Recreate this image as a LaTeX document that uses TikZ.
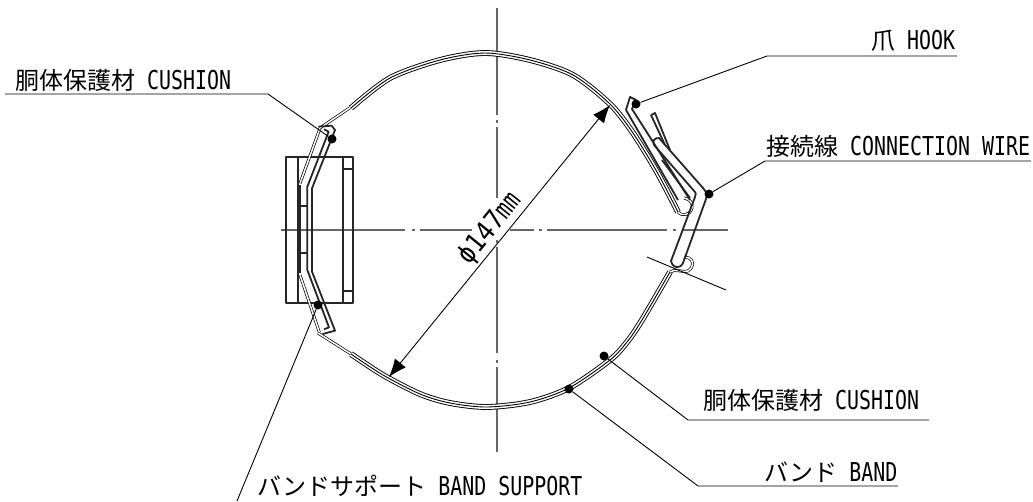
\documentclass[tikz,border=0pt]{standalone}
\usepackage{fontspec}
\usetikzlibrary{arrows.meta}
\newfontfamily\jpfont{Noto Sans CJK JP}
\newfontfamily\latfont[FakeStretch=0.766]{DejaVu Sans Mono}
\newfontfamily\dimfont[FakeStretch=0.9]{DejaVu Sans Mono}
\newcommand{\partlabel}[2]{{\fontsize{24}{24}\jpfont #1}\hspace{12pt}{\fontsize{26}{24}\latfont #2}}

\begin{document}
\begin{tikzpicture}[x=1pt,y=-1pt,>={Latex[length=18pt,width=14pt]}]
	\tikzset{
		thick line/.style={line width=1.8pt,draw=black!85,line join=round},
		thin line/.style={line width=0.9pt,draw=black},
		center line/.style={line width=1.3pt,draw=black!60},
		band line/.style={line width=0.9pt,draw=black,line join=round,
			preaction={draw=black,line width=5.8pt},
			preaction={draw=white,line width=4pt}},
		band thin/.style={line width=2.9pt,draw=black,line join=round,
			postaction={draw=white,line width=1.5pt}},
		dotmark/.style={circle,fill=black,inner sep=0pt,minimum size=9pt},
		partname/.style={inner sep=0pt,anchor=base west},
	}
	\useasboundingbox (0,0) rectangle (1033,501);

	%center lines
	\draw[center line] (281,230) -- (405,230) (412,230) -- (415,230) (420,230) -- (472,230)
		(510,230) -- (534,230) (539,230) -- (542,230) (547,230) -- (667,230)
		(673,230) -- (676,230) (682,230) -- (728,230);
	\draw[center line] (497,8) -- (497,115) (497,120) -- (497,123) (497,127) -- (497,198)
		(497,240) -- (497,243) (497,247) -- (497,353) (497,360) -- (497,363) (497,367) -- (497,452);

	%band
	\draw[band thin] (320,128) -- (351,107);
	\draw[band thin] (318,333) -- (351,354);
	\draw[band line] plot[smooth,tension=0.5] coordinates {(351,108) (390,78) (440,60) (485,53)
		(530,60) (573,75) (610,104) (633,133) (657,172) (678,212)};
	\draw[band line] plot[smooth,tension=0.5] coordinates {(351,354) (383,375) (420,394) (450,403) (487,407)
		(530,402) (569,388) (610,360) (627,342) (642,320) (670,272)};
	%band end, loops
	\draw[band thin] (678,212) .. controls (683,217) and (690,215) .. (692,208) .. controls (693,203) and (690,199) .. (684,198);
	\draw[band thin] (670,272) .. controls (675,268) and (683,273) .. (688,271) .. controls (694,268) and (694,260) .. (689,258) -- (684,257);

	%lever
	\draw[thick line] (654,145) .. controls (652,140) and (655,138) .. (659,138) -- (703,188)
		.. controls (707,192) and (707,196) .. (706,199) -- (683,263)
		.. controls (680,269) and (673,269) .. (671,261)
		-- (695,197) .. controls (696,194) and (696,193) .. (695,192) -- cycle;
	%hook
	\draw[thick line] (626,110) -- (630,97) -- (636,100) -- (632,109) -- (690,200);
	\draw[thick line] (626,110) -- (678,200) ;
	%wire
	\draw[thick line] (651,115) -- (655,113) -- (670,150);
	\draw[thick line] (651,115) -- (665,145);
	\draw[thick line] (662,160) -- (690,198);

	%band support
	\begin{scope}[shift={(250,120)},x=1/3*1pt,y=-1/3*1pt]
		\draw[thick line] (108,110) rectangle (310,548);
		\draw[thick line] (143,110) -- (143,548) (278,110) -- (278,548);
		\draw[thick line] (278,148) -- (310,148) (278,512) -- (310,512);
		\draw[thick line] (150,258) -- (172,258) (150,400) -- (172,400);
		\draw[line width=3pt,draw=black!85] (148,195) -- (148,460);
		\draw[thick line] (205,20) -- (245,17) -- (255,30) -- (186,205) -- (186,455) -- (255,632) -- (218,642);
		\draw[thick line] (222,28) -- (236,35) -- (172,200) -- (172,450) -- (237,622) -- (222,628);
		\draw[band thin] (150,190) -- (210,25);
		\draw[band thin] (150,465) -- (208,637);
	\end{scope}

	%angle line
	\coordinate (anglestart) at (647,257);
	\coordinate (angleend) at (726,290);
	\draw[thin line] (anglestart) -- (angleend);

	%dimension
	\coordinate (dimtop) at (610,105);
	\coordinate (dimbot) at (389,377);
	\draw[thin line,<->] (dimbot) -- (dimtop);
	\node (dimlabel) [rotate=51,inner sep=0pt] at (490,229) {\fontsize{27}{27}\dimfont ϕ147\scalebox{.85}[1]{mm}};

	%dots
	\node (dotcushl) [dotmark] at (332,139) {};
	\node (dotsupp) [dotmark] at (318,305) {};
	\node (dothook) [dotmark] at (636,104) {};
	\node (dotwire) [dotmark] at (709,194) {};
	\node (dotcushr) [dotmark] at (604,356) {};
	\node (dotband) [dotmark] at (569,389) {};

	%labels
	\node (lblcushl) [partname] at (15,89) {\partlabel{胴体保護材}{CUSHION}};
	\node (lblhook) [partname] at (871,49) {\partlabel{爪}{HOOK}};
	\node (lblwire) [partname] at (766,155) {\partlabel{接続線}{CONNECTION WIRE}};
	\node (lblcushr) [partname] at (703,409) {\partlabel{胴体保護材}{CUSHION}};
	\node (lblband) [partname] at (764,481) {\partlabel{バンド}{BAND}};
	\node (lblsupp) [partname] at (257,495) {\partlabel{バンドサポート}{BAND SUPPORT}};

	%leaders
	\coordinate (kneecushl) at (268,94);
	\coordinate (endcushl) at (5,94);
	\coordinate (kneehook) at (767,56);
	\coordinate (endhook) at (957,56);
	\coordinate (kneewire) at (765,161);
	\coordinate (endwire) at (1031,161);
	\coordinate (kneecushr) at (688,420);
	\coordinate (endcushr) at (929,420);
	\coordinate (kneeband) at (698,486);
	\coordinate (endband) at (898,486);
	\coordinate (endsupp) at (237,501);
	\path[draw,thin line] (dotcushl) -- (kneecushl) -- (endcushl)
		(dothook) -- (kneehook) -- (endhook)
		(dotwire) -- (kneewire) -- (endwire)
		(dotcushr) -- (kneecushr) -- (endcushr)
		(dotband) -- (kneeband) -- (endband)
		(dotsupp) -- (endsupp);
\end{tikzpicture}
\end{document}
